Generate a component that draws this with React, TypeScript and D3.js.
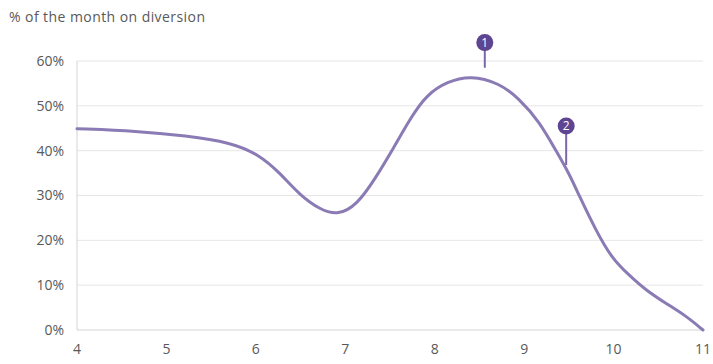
import React from "react";
import * as d3 from "d3";

// Share of the month spent on diversion, by x position
const monthX = [4, 4.67, 5.22, 5.71, 6.04, 6.27, 6.49, 6.72, 6.92, 7.13, 7.33, 7.54, 7.73, 7.91, 8.14, 8.4, 8.72, 8.94, 9.17, 9.35, 9.5, 9.61, 9.8, 9.98, 10.17, 10.36, 10.58, 10.8, 11];
const diversionPct = [44.9, 44.4, 43.3, 41.9, 39.1, 35.0, 30.1, 26.8, 25.6, 27.9, 33.6, 40.6, 47.3, 52.5, 55.4, 56.8, 55.1, 51.7, 46.5, 40.2, 35.0, 30.2, 22.3, 16.0, 12.3, 8.9, 6.0, 3.3, 0];

const xTicks = [4, 5, 6, 7, 8, 9, 10, 11];
const yTicks = [0, 10, 20, 30, 40, 50, 60];

// Numbered callouts: position, marker height and stem end (in %)
const calloutLabels = ["1", "2"];
const calloutX = [8.56, 9.47];
const calloutTop = [64.1, 45.5];
const calloutBottom = [58.5, 36.8];

const W = 713;
const H = 364;
const margin = { left: 77, right: 10, top: 61, bottom: 34 };
const FONT = "'Open Sans', 'Noto Sans', sans-serif";

export default function App() {
  const x = d3.scaleLinear().domain([4, 11]).range([margin.left, W - margin.right]);
  const y = d3.scaleLinear().domain([0, 60]).range([H - margin.bottom, margin.top]);

  const pts = monthX.map((v, i) => [v, diversionPct[i]] as [number, number]);
  const line = d3
    .line<[number, number]>()
    .x((d) => x(d[0]))
    .y((d) => y(d[1]))
    .curve(d3.curveBasis);

  return (
    <svg
      width={W}
      height={H}
      style={{ position: "absolute", left: 0, top: 0, background: "#fff" }}
      fontFamily={FONT}
    >
      <text x={9} y={22} fontSize={14} fill="#595959" textLength={196}>
        % of the month on diversion
      </text>

      {yTicks.map((t) => (
        <g key={t}>
          <line
            x1={x(4)}
            x2={x(11)}
            y1={y(t)}
            y2={y(t)}
            stroke={t === 0 ? "#d4d4d4" : "#e6e6e6"}
            strokeWidth={1}
          />
          <text
            x={64}
            y={y(t)}
            dy="0.35em"
            textAnchor="end"
            fontSize={14}
            fill="#595959"
          >
            {`${t}%`}
          </text>
        </g>
      ))}
      <line x1={x(4)} x2={x(4)} y1={y(60)} y2={y(0)} stroke="#d4d4d4" strokeWidth={1} />

      {xTicks.map((t) => (
        <text
          key={t}
          x={x(t)}
          y={H - margin.bottom + 24}
          textAnchor="middle"
          fontSize={14}
          fill="#595959"
        >
          {t}
        </text>
      ))}

      <path d={line(pts) ?? ""} fill="none" stroke="#8a7bb5" strokeWidth={3} strokeLinecap="round" />

      {calloutLabels.map((lab, i) => (
        <g key={lab}>
          <line
            x1={x(calloutX[i])}
            x2={x(calloutX[i])}
            y1={y(calloutTop[i])}
            y2={y(calloutBottom[i])}
            stroke="#7a66a8"
            strokeWidth={2}
          />
          <circle cx={x(calloutX[i])} cy={y(calloutTop[i])} r={8.5} fill="#5e4591" />
          <text
            x={x(calloutX[i])}
            y={y(calloutTop[i])}
            dy="0.36em"
            textAnchor="middle"
            fontSize={12}
            fill="#fff"
          >
            {lab}
          </text>
        </g>
      ))}
    </svg>
  );
}
